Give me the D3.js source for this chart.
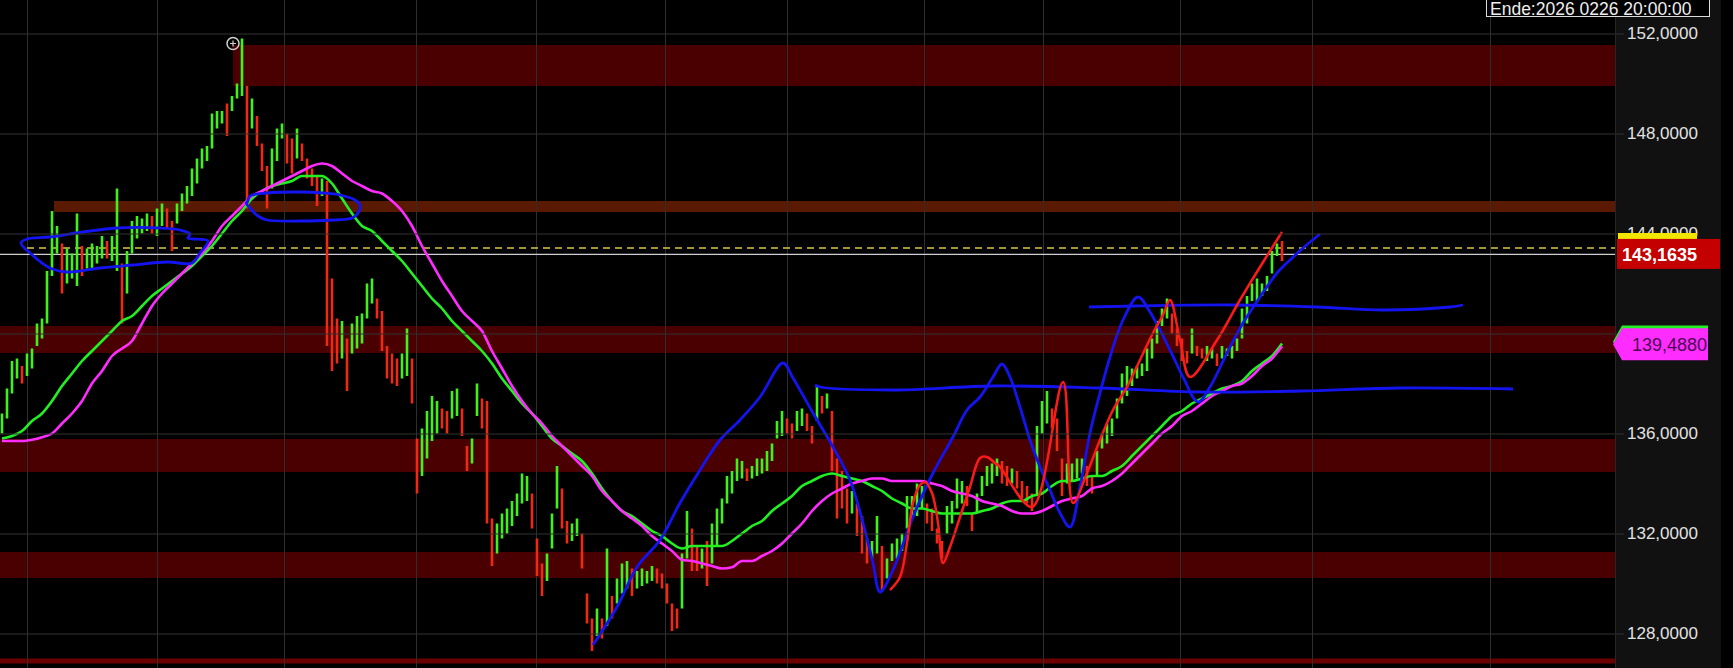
<!DOCTYPE html>
<html><head><meta charset="utf-8">
<script src="https://cdn.jsdelivr.net/npm/d3@7"></script>
<style>html,body{margin:0;padding:0;background:#000;overflow:hidden}</style>
</head><body><svg id="c" width="1733" height="668"></svg>
<script>
// ---------- DATA ----------
const barLow = [136.0,136.6,137.6,138.2,138.0,138.3,138.6,139.5,139.8,140.4,
142.3,143.2,141.6,142.0,142.2,141.9,142.3,142.6,142.6,142.8,
143.0,143.0,142.9,142.5,140.4,141.6,143.2,143.8,144.0,144.1,
144.0,143.9,144.3,144.2,143.3,144.4,144.9,145.2,145.5,146.0,
146.6,146.9,147.4,148.2,148.4,147.9,148.9,149.4,149.5,145.0,
148.2,147.5,146.5,145.0,145.8,146.9,147.8,146.8,146.4,147.0,
146.9,146.2,145.9,145.1,145.5,139.5,138.5,138.8,139.0,137.7,
139.2,139.4,139.6,140.6,141.2,140.6,139.3,138.2,138.0,137.9,
138.2,138.3,137.2,133.6,134.3,135.0,135.7,136.0,136.2,136.0,
136.6,136.7,135.9,134.5,134.8,136.7,136.2,132.4,130.7,131.2,
131.8,132.0,132.3,132.7,133.2,133.3,132.2,130.3,129.5,130.1,
131.4,133.0,132.2,131.6,131.7,131.9,130.6,128.4,127.3,127.9,
127.8,128.3,128.6,129.2,129.6,129.8,129.5,129.8,129.9,130.0,
130.1,130.0,129.8,129.2,128.1,128.2,129.0,131.0,130.5,130.5,
130.6,129.9,130.8,131.5,132.4,133.2,133.6,134.1,134.2,134.1,
134.2,134.3,134.4,134.5,134.9,135.8,135.9,136.0,135.8,136.1,
136.3,136.1,135.6,136.5,136.8,137.0,134.5,132.6,133.0,132.4,
132.8,131.9,131.2,130.8,131.0,131.2,129.7,130.2,130.9,131.0,
131.3,132.2,132.6,132.7,133.0,132.4,132.1,131.6,131.0,132.0,
132.4,133.0,133.2,133.1,132.1,132.8,133.5,133.9,134.0,134.3,
134.0,133.9,134.0,133.8,133.4,133.2,132.9,133.5,136.0,136.4,
136.2,135.3,133.5,134.0,134.1,134.2,134.4,133.9,133.6,134.3,
135.4,135.6,135.9,136.6,137.2,137.5,137.9,138.2,138.3,138.5,
139.0,139.6,140.3,140.6,140.0,139.5,138.9,138.8,139.2,139.1,
139.0,138.9,139.0,138.7,139.0,139.1,139.0,139.3,139.8,140.4,
141.3,141.3,141.5,141.7,142.4,143.1,142.9];
const barHigh = [136.8,137.8,138.9,139.0,138.7,139.2,139.4,140.4,140.6,142.5,
144.9,144.3,143.6,143.4,143.2,144.8,143.5,143.4,143.6,143.5,
143.9,143.7,143.9,145.8,142.8,143.3,144.5,144.7,144.6,144.8,
144.7,145.0,145.2,145.0,144.5,145.2,145.6,145.9,146.6,147.0,
147.4,147.5,148.8,148.9,148.9,149.2,149.5,150.0,151.8,149.9,
149.4,148.7,147.6,146.7,147.4,148.2,148.4,148.0,147.8,148.2,
147.6,147.0,146.6,146.3,146.2,146.1,142.2,140.6,140.5,139.8,
140.4,140.7,140.8,142.0,142.2,141.4,140.9,139.5,139.2,139.0,
139.2,140.2,139.0,135.8,136.2,136.9,137.5,137.3,137.0,136.9,
137.7,137.8,137.0,135.5,135.8,138.0,137.4,137.3,132.6,132.4,
132.8,133.0,133.3,133.6,134.4,134.3,133.6,131.8,130.8,131.2,
132.8,134.7,133.8,132.5,132.4,132.6,132.0,129.6,128.6,129.0,
128.6,131.4,129.5,130.2,130.8,130.9,130.6,130.5,130.6,130.5,
130.7,130.6,130.4,130.0,129.2,129.0,131.2,132.9,132.2,131.5,
131.4,131.7,132.4,133.0,133.4,134.3,134.5,135.0,134.9,134.6,
134.7,135.0,135.0,135.3,135.6,136.5,136.9,136.6,136.4,136.9,
137.0,136.8,136.3,137.9,137.5,137.6,136.9,135.0,134.5,133.8,
133.7,133.2,132.7,131.8,131.7,132.7,131.5,131.0,131.6,131.8,
132.0,133.5,133.5,134.0,133.9,133.2,133.0,132.2,131.7,133.1,
133.3,134.2,134.1,133.9,132.8,133.6,134.3,134.7,134.8,135.0,
134.9,134.7,134.6,134.5,134.1,133.9,133.6,136.3,137.3,137.7,
137.0,136.6,135.0,134.8,134.8,135.0,135.0,134.7,134.3,135.3,
136.0,136.4,136.6,137.4,138.4,138.7,138.6,138.7,138.8,139.4,
139.8,140.5,141.0,141.4,140.8,140.2,139.8,139.3,140.2,139.5,
139.4,139.5,139.4,139.2,139.5,139.4,139.5,139.8,141.0,141.5,
142.0,142.2,142.0,142.3,143.3,143.6,143.7];
// moving averages, one reading every 2 bars
const maGreen = [135.8,135.9,136.1,136.5,136.8,137.3,137.9,138.4,138.9,139.3,
139.7,140.1,140.5,140.7,141.1,141.5,141.8,142.1,142.4,142.7,
143.1,143.5,144.0,144.5,144.9,145.4,145.7,145.9,146.0,146.1,
146.3,146.3,146.3,146.0,145.4,144.8,144.3,144.1,143.7,143.3,
142.9,142.4,141.9,141.4,141.0,140.5,140.1,139.7,139.3,138.8,
138.2,137.7,137.2,136.8,136.3,135.8,135.5,135.2,134.9,134.4,
133.8,133.3,132.9,132.7,132.4,132.1,131.9,131.6,131.4,131.5,
131.5,131.5,131.5,131.7,132.0,132.3,132.5,132.9,133.2,133.5,
133.9,134.1,134.3,134.4,134.3,134.2,134.1,133.9,133.7,133.4,
133.2,133.0,133.0,132.9,132.8,132.8,132.8,132.8,132.9,133.0,
133.2,133.3,133.3,133.5,133.6,133.9,134.1,134.1,134.2,134.3,
134.3,134.5,134.7,135.1,135.5,135.9,136.3,136.7,136.9,137.2,
137.4,137.6,137.8,137.9,138.1,138.5,138.8,139.1,139.6];
const maMagenta = [135.7,135.7,135.7,135.75,135.85,136.0,136.4,136.8,137.3,138.0,
138.5,139.1,139.4,139.7,140.4,141.1,141.6,142.0,142.4,142.8,
143.2,143.7,144.3,144.7,145.1,145.5,145.7,145.9,146.1,146.3,
146.5,146.7,146.8,146.7,146.4,146.1,145.9,145.7,145.6,145.3,
144.9,144.3,143.5,142.8,142.1,141.5,140.9,140.5,140.1,139.3,
138.6,137.9,137.3,136.8,136.4,135.9,135.5,135.1,134.7,134.3,
133.7,133.3,132.9,132.6,132.3,131.9,131.6,131.3,130.95,130.9,
130.8,130.7,130.6,130.65,130.9,130.9,131.1,131.3,131.6,132.0,
132.4,132.9,133.3,133.6,133.8,134.0,134.1,134.2,134.2,134.1,
134.1,134.1,134.1,134.0,133.9,133.7,133.6,133.5,133.3,133.2,
133.1,132.9,132.8,132.8,132.9,133.1,133.3,133.4,133.5,133.8,
133.9,134.1,134.4,134.8,135.2,135.6,136.0,136.3,136.7,136.9,
137.2,137.5,137.7,137.9,138.0,138.3,138.7,139.0,139.488];
// zones: [start bar, top price, bottom price]
const zoneStart = [46.2, 10.4, -0.4, -0.4, -0.4, -0.4];
const zoneTop = [151.54, 145.3, 140.3, 135.78, 131.26, 127.0];
const zoneBottom = [149.9, 144.86, 139.22, 134.46, 130.22, 126.8];
// hand-drawn blue and red lines: [bar, price]
const blueLoopLeft = [[37.2,143.82],[41.2,143.7],[39.6,143.22],[38.0,142.82],[33.0,142.86],[26.2,142.74],[19.6,142.62],[13.0,142.46],[9.6,142.62],[5.6,143.22],[3.8,143.62],[5.0,143.78],[9.6,143.86],[16.2,144.06],[23.0,144.22],[31.6,144.22],[35.6,144.14],[37.6,143.98]];
const blueLoopTop = [[49.0,145.22],[49.6,145.5],[53.0,145.62],[59.6,145.66],[64.2,145.62],[67.6,145.54],[70.6,145.34],[71.6,145.14],[71.2,144.82],[70.0,144.62],[66.2,144.54],[59.6,144.5],[53.0,144.54],[51.2,144.7],[49.6,145.02],[48.8,145.22]];
const blueZigzag = [[118.2,127.54],[123.0,129.06],[127.0,130.66],[131.6,131.74],[135.6,133.22],[139.6,134.54],[143.6,135.74],[147.6,136.54],[151.6,137.46],[156.2,138.82],[158.2,138.22],[162.2,136.82],[166.2,135.46],[169.6,134.14],[172.2,132.42],[174.2,130.82],[175.6,129.66],[178.2,130.54],[182.2,132.66],[186.2,134.42],[190.2,135.86],[193.0,136.94],[195.6,137.46],[198.2,138.26],[200.0,138.78],[201.6,138.26],[203.6,137.06],[205.6,135.74],[207.6,134.66],[209.6,133.74],[211.6,132.82],[213.6,132.26],[215.6,133.86],[217.6,136.02],[219.6,137.62],[221.6,139.06],[224.2,140.54],[227.2,141.46],[229.6,140.86],[233.6,139.34],[236.2,138.26],[239.2,137.26],[241.6,137.86],[245.0,139.22],[248.2,140.42],[251.6,141.46],[255.0,142.42],[257.6,142.94],[260.2,143.42],[263.6,143.98]];
const blueLevelUpper = [[217.4,141.06],[226.2,141.1],[246.2,141.14],[263.0,141.06],[276.2,140.94],[289.6,141.06],[292.2,141.14]];
const blueLevelLower = [[162.6,137.94],[163.6,137.86],[178.2,137.74],[198.2,137.9],[219.6,137.82],[239.6,137.66],[259.6,137.7],[279.6,137.82],[302.2,137.78]];
const redZigzag = [[177.6,129.74],[179.6,130.26],[181.0,131.62],[182.2,133.22],[183.6,133.94],[184.6,134.06],[186.0,133.62],[187.2,132.42],[188.2,130.82],[189.6,131.46],[191.6,132.66],[193.6,133.86],[195.6,135.02],[197.0,135.06],[198.6,134.82],[199.6,134.66],[206.0,133.06],[212.2,138.06],[214.2,133.22],[217.0,134.42],[219.6,135.74],[222.2,136.94],[225.0,137.86],[227.6,138.94],[230.2,140.02],[232.2,140.74],[233.6,141.34],[235.6,139.74],[237.6,138.26],[243.0,139.74],[247.6,141.34],[251.6,142.66],[256.0,144.06]];
const gridBars = [5.0, 31.0, 56.4, 82.8, 106.8, 132.6, 157.0, 184.4, 208.2, 235.6, 262.0, 297.6];
const gridValues = [128, 132, 136, 140, 144, 148, 152];
const tickLabels = [128, 132, 136, 144, 148, 152]; // 140 is covered by the MA label
const lastPrice = 143.1635;
const dashedLevel = 143.42;
const dashedStart = 5.0;
const highMarker = [46.2, 151.6];
const endLabel = "Ende:2026 0226 20:00:00";

// ---------- CHART ----------
const W = 1733, H = 668, plotW = 1615, panelR = 1721;
const svg = d3.select('#c');
const x = d3.scaleLinear().domain([0, 256]).range([2, 1282]);
const y = d3.scaleLinear().domain([128, 152]).range([633.5, 33.5]);
const fmt = d3.formatLocale({decimal: ",", thousands: ".", grouping: [3], currency: ["", ""]}).format(".4f");
const FONT = "'Liberation Sans', Arial, sans-serif";

svg.append('rect').attr('width', W).attr('height', H).attr('fill', '#000');
svg.append('rect').attr('x', plotW).attr('width', panelR - plotW).attr('height', H).attr('fill', '#111');
svg.append('defs').append('clipPath').attr('id', 'clip')
  .append('rect').attr('x', 0).attr('y', 0).attr('width', plotW).attr('height', H);
const plot = svg.append('g').attr('clip-path', 'url(#clip)');

// zones
plot.selectAll('rect.zone').data(zoneTop).join('rect').attr('class', 'zone')
  .attr('x', (d, i) => x(zoneStart[i]))
  .attr('y', d => y(d))
  .attr('width', (d, i) => plotW - x(zoneStart[i]))
  .attr('height', (d, i) => y(zoneBottom[i]) - y(d))
  .attr('fill', (d, i) => i === 1 ? '#5a1a02' : (i === 5 ? '#6a0000' : '#4a0000'));

// horizontal grid
const gy = svg.append('g')
  .call(d3.axisRight(y).tickValues(gridValues).tickSize(plotW + 9).tickFormat(''));
gy.select('.domain').remove();
gy.selectAll('line').attr('stroke', '#333').attr('stroke-width', 1);
// vertical grid
const gx = plot.append('g').attr('transform', 'translate(0,' + H + ')')
  .call(d3.axisBottom(x).tickValues(gridBars).tickSize(-H).tickFormat(''));
gx.select('.domain').remove();
gx.selectAll('line').attr('stroke', '#2e2e2e').attr('stroke-width', 1);
svg.append('line').attr('x1', plotW + 0.5).attr('x2', plotW + 0.5).attr('y1', 0).attr('y2', H).attr('stroke', '#262626');

// dashed level and last price
plot.append('line').attr('x1', x(dashedStart)).attr('x2', plotW)
  .attr('y1', y(dashedLevel)).attr('y2', y(dashedLevel))
  .attr('stroke', '#d8c84a').attr('stroke-width', 1.6).attr('stroke-dasharray', '7,5');
plot.append('line').attr('x1', 0).attr('x2', plotW)
  .attr('y1', y(lastPrice)).attr('y2', y(lastPrice))
  .attr('stroke', '#cfcfcf').attr('stroke-width', 1.3);

// bars
const mid = i => (barHigh[i] + barLow[i]) / 2;
plot.selectAll('line.bar').data(barHigh).join('line').attr('class', 'bar')
  .attr('x1', (d, i) => x(i)).attr('x2', (d, i) => x(i))
  .attr('y1', d => y(d)).attr('y2', (d, i) => y(barLow[i]))
  .attr('stroke', (d, i) => (i === 0 || mid(i) >= mid(i - 1)) ? '#44f01a' : '#f02a12')
  .attr('stroke-width', 2.6);

// moving averages
const maLine = d3.line().x((d, i) => x(i * 2)).y(d => y(d)).curve(d3.curveMonotoneX);
plot.append('path').datum(maGreen).attr('d', maLine).attr('fill', 'none')
  .attr('stroke', '#22f022').attr('stroke-width', 2.6);
plot.append('path').datum(maMagenta).attr('d', maLine).attr('fill', 'none')
  .attr('stroke', '#ff2cff').attr('stroke-width', 2.6);

// hand drawn lines
const hand = d3.line().x(d => x(d[0])).y(d => y(d[1])).curve(d3.curveCatmullRom.alpha(0.5));
const handClosed = d3.line().x(d => x(d[0])).y(d => y(d[1])).curve(d3.curveCatmullRomClosed.alpha(0.5));
[[blueLoopLeft, handClosed], [blueLoopTop, handClosed], [blueZigzag, hand], [blueLevelUpper, hand], [blueLevelLower, hand]]
  .forEach(([pts, gen]) => plot.append('path').datum(pts).attr('d', gen).attr('fill', 'none')
    .attr('stroke', '#1414f0').attr('stroke-width', 2.8).attr('stroke-linejoin', 'round'));
plot.append('path').datum(redZigzag).attr('d', hand).attr('fill', 'none')
  .attr('stroke', '#ff1a1a').attr('stroke-width', 2.5).attr('stroke-linejoin', 'round');

// high marker
const mx = x(highMarker[0]), my = y(highMarker[1]);
plot.append('circle').attr('cx', mx).attr('cy', my).attr('r', 6).attr('fill', 'none').attr('stroke', '#d0d0d0').attr('stroke-width', 1.5);
plot.append('path').attr('d', `M${mx - 3},${my}H${mx + 3}M${mx},${my - 3}V${my + 3}`).attr('stroke', '#d0d0d0').attr('stroke-width', 1.2);

// axis labels
const ax = svg.append('g').attr('transform', `translate(${plotW},0)`)
  .call(d3.axisRight(y).tickValues(tickLabels).tickSize(0).tickPadding(12).tickFormat(fmt));
ax.select('.domain').remove();
ax.selectAll('text').attr('fill', '#e2e2e2').style('font-family', FONT).style('font-size', '17px');

// yellow (dashed level) label, mostly hidden
svg.append('rect').attr('x', plotW + 3).attr('y', y(dashedLevel) - 15).attr('width', 79).attr('height', 30).attr('fill', '#f2e600');
// last price label
svg.append('rect').attr('x', plotW + 2).attr('y', y(lastPrice) - 15.5).attr('width', 103).attr('height', 30).attr('fill', '#c40000');
svg.append('text').attr('x', plotW + 7).attr('y', y(lastPrice) + 6.5).text(fmt(lastPrice))
  .attr('fill', '#fff').style('font-family', FONT).style('font-size', '18px').style('font-weight', 'bold');

// MA labels (green hidden behind magenta)
const pent = yc => `M${plotW - 2},${yc - 2} L${plotW + 7},${yc - 18} L1708,${yc - 18} L1708,${yc + 14} L${plotW + 7},${yc + 14} Z`;
const gLast = maGreen[maGreen.length - 1], mLast = maMagenta[maMagenta.length - 1];
svg.append('path').attr('d', pent(y(gLast))).attr('fill', '#22f022');
svg.append('path').attr('d', pent(y(mLast))).attr('fill', '#ff2cff');
svg.append('text').attr('x', plotW + 17).attr('y', y(mLast) + 4.5).text(fmt(mLast))
  .attr('fill', '#4a0a52').style('font-family', FONT).style('font-size', '18px');

// end label
svg.append('rect').attr('x', 1486.5).attr('y', -1).attr('width', 223).attr('height', 17.5)
  .attr('fill', '#000').attr('stroke', '#dcdcdc').attr('stroke-width', 1);
svg.append('text').attr('x', 1490).attr('y', 14.5).text(endLabel)
  .attr('fill', '#eee').style('font-family', FONT).style('font-size', '17.5px');
</script></body></html>
